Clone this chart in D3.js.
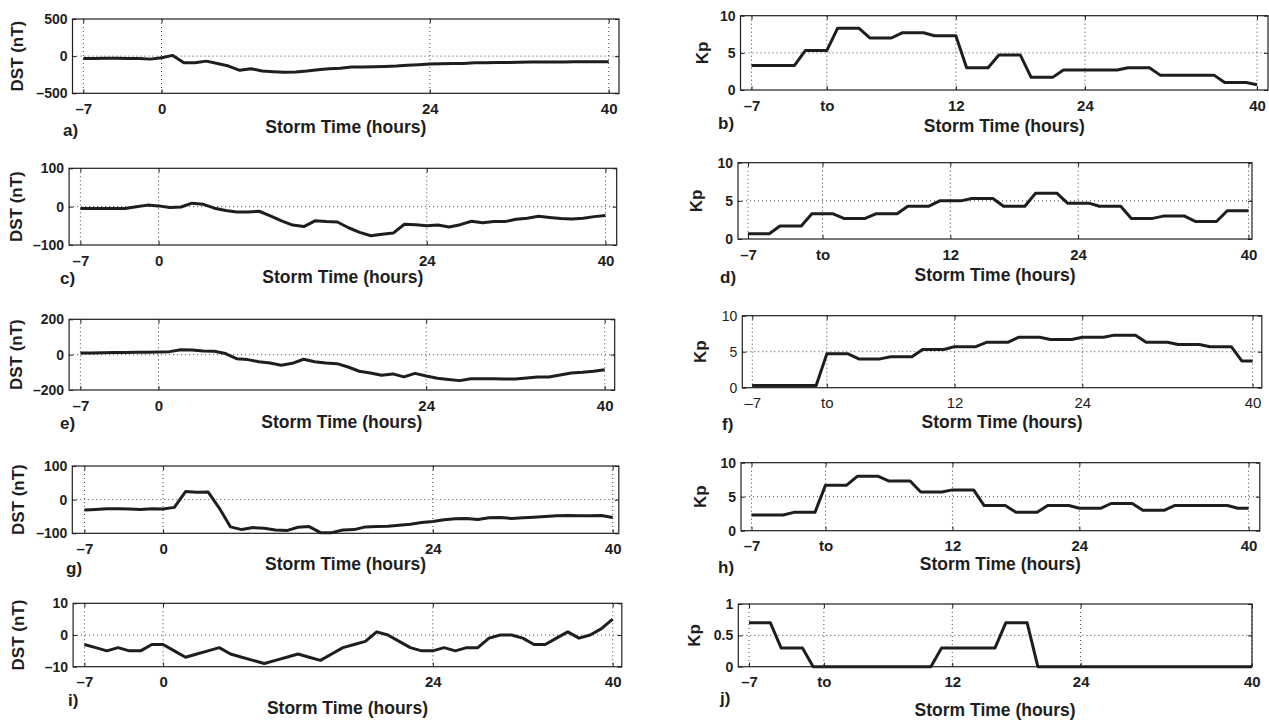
<!DOCTYPE html>
<html><head><meta charset="utf-8">
<script src="https://cdn.jsdelivr.net/npm/d3@7"></script>
<style>
body{margin:0;background:#fff;}
svg{display:block;font-family:"Liberation Sans",Arial,Helvetica,sans-serif;}
</style></head><body>
<svg id="chart" width="1269" height="720"></svg>
<script>
// ---------- data ----------
const hours = [-7,-6,-5,-4,-3,-2,-1,0,1,2,3,4,5,6,7,8,9,10,11,12,13,14,15,16,17,18,19,20,21,22,23,24,25,26,27,28,29,30,31,32,33,34,35,36,37,38,39,40];

const dstA = [-30,-30,-28,-28,-30,-30,-40,-22,10,-89,-89,-67,-98,-133,-191,-169,-200,-209,-218,-213,-200,-182,-169,-164,-147,-147,-142,-138,-133,-124,-116,-107,-102,-98,-98,-89,-89,-84,-84,-82,-80,-80,-78,-78,-76,-76,-76,-76];
const dstC = [-5,-5,-5,-5,-5,0,4,2,-2,-1,9,6,-4,-10,-14,-14,-12,-24,-37,-48,-52,-37,-39,-40,-55,-67,-76,-72,-69,-46,-47,-50,-48,-53,-47,-38,-42,-39,-39,-33,-30,-25,-28,-31,-32,-30,-26,-23];
const dstE = [9,10,11,12,12,13,14,15,17,28,26,21,19,6,-23,-28,-40,-47,-60,-49,-26,-40,-47,-51,-70,-94,-104,-117,-109,-126,-106,-121,-134,-140,-147,-136,-136,-136,-138,-138,-132,-126,-126,-115,-104,-100,-94,-85];
const dstG = [-31,-29,-27,-27,-28,-29,-27,-28,-23,24,22,23,-25,-81,-89,-83,-85,-90,-92,-82,-80,-98,-98,-90,-89,-81,-80,-79,-76,-73,-68,-65,-60,-57,-56,-59,-54,-53,-56,-54,-52,-50,-48,-47,-48,-48,-47,-53];
const dstI = [-3,-4,-5,-4,-5,-5,-3,-3,-5,-7,-6,-5,-4,-6,-7,-8,-9,-8,-7,-6,-7,-8,-6,-4,-3,-2,1,0,-2,-4,-5,-5,-4,-5,-4,-4,-1,0,0,-1,-3,-3,-1,1,-1,0,2,5];

const kpB = [3.3,3.3,3.3,3.3,3.3,5.3,5.3,5.3,8.3,8.3,8.3,7.0,7.0,7.0,7.7,7.7,7.7,7.3,7.3,7.3,3.0,3.0,3.0,4.7,4.7,4.7,1.7,1.7,1.7,2.7,2.7,2.7,2.7,2.7,2.7,3.0,3.0,3.0,2.0,2.0,2.0,2.0,2.0,2.0,1.0,1.0,1.0,0.7];
const kpD = [0.7,0.7,0.7,1.7,1.7,1.7,3.3,3.3,3.3,2.7,2.7,2.7,3.3,3.3,3.3,4.3,4.3,4.3,5.0,5.0,5.0,5.3,5.3,5.3,4.3,4.3,4.3,6.0,6.0,6.0,4.7,4.7,4.7,4.3,4.3,4.3,2.7,2.7,2.7,3.0,3.0,3.0,2.3,2.3,2.3,3.7,3.7,3.7];
const kpF = [0.3,0.3,0.3,0.3,0.3,0.3,0.3,4.7,4.7,4.7,4.0,4.0,4.0,4.3,4.3,4.3,5.3,5.3,5.3,5.7,5.7,5.7,6.3,6.3,6.3,7.0,7.0,7.0,6.7,6.7,6.7,7.0,7.0,7.0,7.3,7.3,7.3,6.3,6.3,6.3,6.0,6.0,6.0,5.7,5.7,5.7,3.7,3.7];
const kpH = [2.3,2.3,2.3,2.3,2.7,2.7,2.7,6.7,6.7,6.7,8.0,8.0,8.0,7.3,7.3,7.3,5.7,5.7,5.7,6.0,6.0,6.0,3.7,3.7,3.7,2.7,2.7,2.7,3.7,3.7,3.7,3.3,3.3,3.3,4.0,4.0,4.0,3.0,3.0,3.0,3.7,3.7,3.7,3.7,3.7,3.7,3.3,3.3];
const kpJ = [0.7,0.7,0.7,0.3,0.3,0.3,0,0,0,0,0,0,0,0,0,0,0,0,0.3,0.3,0.3,0.3,0.3,0.3,0.7,0.7,0.7,0,0,0,0,0,0,0,0,0,0,0,0,0,0,0,0,0,0,0,0,0];

const xTicksLeft = [-7, 0, 24, 40];
const xTickLabelsLeft = ["\u20137", "0", "24", "40"];
const xTicksRight = [-7, 0, 12, 24, 40];
const xTickLabelsRight = ["\u20137", "to", "12", "24", "40"];

const yTicksA = [-500, 0, 500];  const yTickLabelsA = ["\u2013500", "0", "500"];
const yTicksC = [-100, 0, 100];  const yTickLabelsC = ["\u2013100", "0", "100"];
const yTicksE = [-200, 0, 200];  const yTickLabelsE = ["\u2013200", "0", "200"];
const yTicksG = [-100, 0, 100];  const yTickLabelsG = ["\u2013100", "0", "100"];
const yTicksI = [-10, 0, 10];    const yTickLabelsI = ["\u201310", "0", "10"];
const yTicksKp = [0, 5, 10];     const yTickLabelsKp = ["0", "5", "10"];
const yTicksJ = [0, 0.5, 1];     const yTickLabelsJ = ["0", "0.5", "1"];

const panelLetters = ["a)", "b)", "c)", "d)", "e)", "f)", "g)", "h)", "i)", "j)"];
const xAxisTitle = "Storm Time (hours)";
const dstTitle = "DST (nT)";
const kpTitle = "Kp";

// ---------- layout ----------
const panels = [
  {letter: panelLetters[0], values: dstA, xT: xTicksLeft, xL: xTickLabelsLeft, yT: yTicksA, yL: yTickLabelsA, title: dstTitle,
   geo: {p7: 83.3, p40: 608.7, bl: 72.5, br: 619, top: 19, bottom: 93.3, ylabX: 23, letterX: 63, letterDy: 37, xlabDy: 34}},
  {letter: panelLetters[1], values: kpB, xT: xTicksRight, xL: xTickLabelsRight, yT: yTicksKp, yL: yTickLabelsKp, title: kpTitle,
   geo: {p7: 751.5, p40: 1257, bl: 740.5, br: 1268, top: 15.7, bottom: 90, ylabX: 708, letterX: 718, letterDy: 33, xlabDy: 36}},
  {letter: panelLetters[2], values: dstC, xT: xTicksLeft, xL: xTickLabelsLeft, yT: yTicksC, yL: yTickLabelsC, title: dstTitle,
   geo: {p7: 80.4, p40: 605.5, bl: 69.1, br: 616.7, top: 168.3, bottom: 245, ylabX: 22, letterX: 60, letterDy: 33, xlabDy: 32}},
  {letter: panelLetters[3], values: kpD, xT: xTicksRight, xL: xTickLabelsRight, yT: yTicksKp, yL: yTickLabelsKp, title: kpTitle,
   geo: {p7: 748, p40: 1248.5, bl: 738, br: 1252, top: 162.7, bottom: 239, ylabX: 702, letterX: 720, letterDy: 38, xlabDy: 36}},
  {letter: panelLetters[4], values: dstE, xT: xTicksLeft, xL: xTickLabelsLeft, yT: yTicksE, yL: yTickLabelsE, title: dstTitle,
   geo: {p7: 80.4, p40: 604.7, bl: 69.1, br: 614.7, top: 319.3, bottom: 390, ylabX: 22, letterX: 60, letterDy: 33, xlabDy: 32}},
  {letter: panelLetters[5], values: kpF, xT: xTicksRight, xL: xTickLabelsRight, yT: yTicksKp, yL: yTickLabelsKp, title: kpTitle, light: true,
   geo: {p7: 752.3, p40: 1252.6, bl: 742.3, br: 1261.8, top: 315.7, bottom: 387.7, ylabX: 706, letterX: 722, letterDy: 36, xlabDy: 34}},
  {letter: panelLetters[6], values: dstG, xT: xTicksLeft, xL: xTickLabelsLeft, yT: yTicksG, yL: yTickLabelsG, title: dstTitle,
   geo: {p7: 84.4, p40: 612.7, bl: 72.3, br: 618.8, top: 466, bottom: 533.3, ylabX: 24, letterX: 66, letterDy: 35, xlabDy: 31}},
  {letter: panelLetters[7], values: kpH, xT: xTicksRight, xL: xTickLabelsRight, yT: yTicksKp, yL: yTickLabelsKp, title: kpTitle,
   geo: {p7: 751.5, p40: 1248.6, bl: 741, br: 1259.8, top: 462.7, bottom: 530.7, ylabX: 706, letterX: 718, letterDy: 36, xlabDy: 33}},
  {letter: panelLetters[8], values: dstI, xT: xTicksLeft, xL: xTickLabelsLeft, yT: yTicksI, yL: yTickLabelsI, title: dstTitle,
   geo: {p7: 84.4, p40: 612.7, bl: 73.1, br: 621.8, top: 603.3, bottom: 666.7, ylabX: 24, letterX: 68, letterDy: 33, xlabDy: 41}},
  {letter: panelLetters[9], values: kpJ, xT: xTicksRight, xL: xTickLabelsRight, yT: yTicksJ, yL: yTickLabelsJ, title: kpTitle,
   geo: {p7: 749, p40: 1251.8, bl: 738.3, br: 1252, top: 604, bottom: 666.7, ylabX: 700, letterX: 720, letterDy: 31, xlabDy: 43}}
];

const svg = d3.select("#chart");
const INK = "#1e1e1e";

function styleAxis(sel, weight, size) {
  sel.select(".domain").remove();
  sel.selectAll(".tick line").attr("stroke", INK).attr("stroke-width", 1);
  sel.selectAll(".tick text").attr("fill", INK).attr("font-weight", weight)
     .attr("font-size", size).attr("font-family", "'Liberation Sans', Arial, sans-serif");
  sel.attr("font-family", null).attr("font-size", null);
}

panels.forEach(p => {
  const G = p.geo;
  const g = svg.append("g");
  const x = d3.scaleLinear().domain([hours[0], hours[hours.length - 1]]).range([G.p7, G.p40]);
  const y = d3.scaleLinear().domain([p.yT[0], p.yT[p.yT.length - 1]]).range([G.bottom, G.top]);
  const weight = p.light ? "normal" : "bold";

  // dotted grid
  g.selectAll(null).data(p.xT).join("line")
    .attr("x1", d => x(d)).attr("x2", d => x(d))
    .attr("y1", G.top).attr("y2", G.bottom)
    .attr("stroke", "#444").attr("stroke-width", 1).attr("stroke-dasharray", "1,3");
  g.selectAll(null).data(p.yT.slice(1, -1)).join("line")
    .attr("x1", G.bl).attr("x2", G.br)
    .attr("y1", d => y(d)).attr("y2", d => y(d))
    .attr("stroke", "#444").attr("stroke-width", 1).attr("stroke-dasharray", "1,3");

  // data line
  const line = d3.line().x((d, i) => x(hours[i])).y(d => y(d));
  g.append("path").datum(p.values).attr("d", line)
    .attr("fill", "none").attr("stroke", INK).attr("stroke-width", 3)
    .attr("stroke-linejoin", "round").attr("stroke-linecap", "butt");

  // box
  g.append("rect").attr("x", G.bl).attr("y", G.top)
    .attr("width", G.br - G.bl).attr("height", G.bottom - G.top)
    .attr("fill", "none").attr("stroke", INK).attr("stroke-width", 1.2);

  // axes (inward ticks)
  const xb = g.append("g").attr("transform", `translate(0,${G.bottom})`)
    .call(d3.axisBottom(x).tickValues(p.xT).tickFormat((d, i) => p.xL[i]).tickSize(-4).tickPadding(10));
  styleAxis(xb, weight, p.light ? "15px" : "15px");
  const xt = g.append("g").attr("transform", `translate(0,${G.top})`)
    .call(d3.axisTop(x).tickValues(p.xT).tickFormat("").tickSize(-4));
  styleAxis(xt, weight, "1px");
  const yl = g.append("g").attr("transform", `translate(${G.bl},0)`)
    .call(d3.axisLeft(y).tickValues(p.yT).tickFormat((d, i) => p.yL[i]).tickSize(-4).tickPadding(5));
  styleAxis(yl, weight, "14px");
  const yr = g.append("g").attr("transform", `translate(${G.br},0)`)
    .call(d3.axisRight(y).tickValues(p.yT).tickFormat("").tickSize(-4));
  styleAxis(yr, weight, "1px");

  // titles
  g.append("text").attr("transform", `translate(${G.ylabX},${(G.top + G.bottom) / 2}) rotate(-90)`)
    .attr("text-anchor", "middle").attr("font-weight", "bold").attr("font-size", "17px")
    .attr("fill", INK).text(p.title);
  g.append("text").attr("x", (G.bl + G.br) / 2).attr("y", G.bottom + G.xlabDy + 6)
    .attr("text-anchor", "middle").attr("font-weight", "bold").attr("font-size", "17.5px")
    .attr("fill", INK).text(xAxisTitle);
  g.append("text").attr("x", G.letterX).attr("y", G.bottom + G.letterDy + 6)
    .attr("font-weight", "bold").attr("font-size", "17px")
    .attr("fill", INK).text(p.letter);
});
</script>
</body></html>
